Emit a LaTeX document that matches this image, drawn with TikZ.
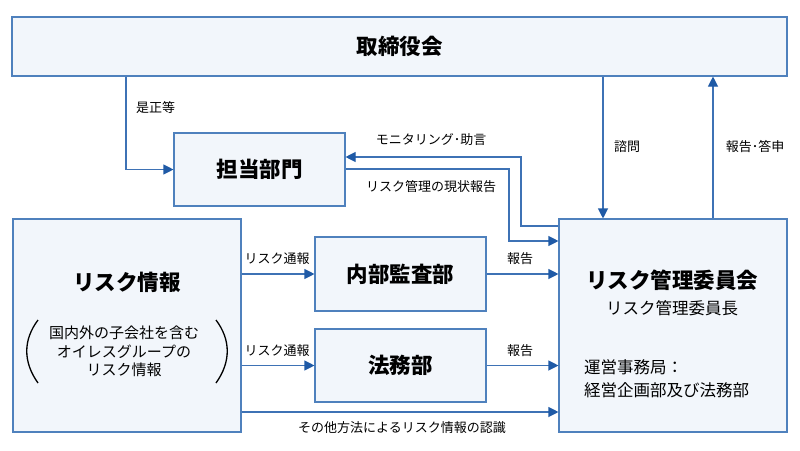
\documentclass[tikz,border=0pt]{standalone}
\usepackage{fontspec}
\setmainfont{Noto Sans CJK JP}
\usetikzlibrary{arrows.meta}
\definecolor{boxline}{HTML}{4F81BD}
\definecolor{boxfill}{HTML}{F2F6FB}
\definecolor{arrline}{HTML}{3E72B5}
\definecolor{arrtip}{HTML}{1F5AA6}
\tikzset{
  box/.style={draw=boxline, fill=boxfill, line width=1.1pt, inner sep=0pt, rectangle},
  ttl/.style={font=\fontsize{21.5}{24}\selectfont\bfseries},
  lbl/.style={font=\fontsize{13}{15}\selectfont, inner sep=0pt},
  mid/.style={font=\fontsize{16.5}{19}\selectfont, inner sep=0pt},
  conn/.style={draw=arrline, line width=1.1pt},
  arr/.style={conn, -{Triangle[length=10pt,width=10pt,fill=arrtip,color=arrtip]}},
}
\begin{document}
\begin{tikzpicture}[x=1pt,y=-1pt]
\useasboundingbox (0,0) rectangle (800,450);
% boxes
\node[box, minimum width=775pt, minimum height=59pt] (board) at (399.5,46.5) {};
\node[ttl] (boardt) at (399.5,46.5) {取締役会};
\node[box, minimum width=171pt, minimum height=73pt] (tanto) at (259.5,169.5) {};
\node[ttl] (tantot) at (259.5,169.5) {担当部門};
\node[box, minimum width=228pt, minimum height=213pt] (risk) at (127,325.5) {};
\node[ttl] (riskt) at (127,282) {リスク情報};
\node[font=\fontsize{15}{18.5}\selectfont, align=center, inner sep=0pt] (riskd) at (124,351.5) {国内外の子会社を含む\\オイレスグループの\\リスク情報};
\draw[line width=1.3pt] (38,320) .. controls (23,340) and (23,362) .. (38,383);
\draw[line width=1.3pt] (216,320) .. controls (231,340) and (231,362) .. (216,383);
\node[box, minimum width=171pt, minimum height=74pt] (audit) at (400.5,274) {};
\node[ttl] (auditt) at (400.5,274) {内部監査部};
\node[box, minimum width=171pt, minimum height=73pt] (legal) at (400.5,365.5) {};
\node[ttl] (legalt) at (400.5,365.5) {法務部};
\node[box, minimum width=228pt, minimum height=213pt] (comm) at (673,325.5) {};
\node[ttl] (commt) at (672,280) {リスク管理委員会};
\node[mid] (chair) at (672,308) {リスク管理委員長};
\node[mid, anchor=west] (sec1) at (584,367) {運営事務局：};
\node[mid, anchor=west] (sec2) at (584,390) {経営企画部及び法務部};
% coordinates
\coordinate (c1) at (126,0);
\coordinate (m1) at (521,157);
\coordinate (m2) at (509,169);
% connectors
\draw[arr] (board.south -| c1) |- (tanto.west);
\node[lbl, anchor=west] (l1) at (136,108) {是正等};
\draw[arr] (comm.west |- 0,226) -| (m1) -- (tanto.east |- m1);
\node[lbl] (l2) at (431,140) {モニタリング･助言};
\draw[arr] (tanto.east |- m2) -| (509,241) -- (comm.west |- 0,241);
\node[lbl] (l3) at (431,187) {リスク管理の現状報告};
\draw[arr] (board.south -| 603,0) -- (comm.north -| 603,0);
\node[lbl] (l4) at (627,147) {諮問};
\draw[arr] (comm.north -| 713,0) -- (board.south -| 713,0);
\node[lbl] (l5) at (755,147) {報告･答申};
\draw[arr] (risk.east |- audit) -- (audit.west);
\node[lbl] (l6) at (277,259) {リスク通報};
\draw[arr] (risk.east |- legal) -- (legal.west);
\node[lbl] (l7) at (277,351) {リスク通報};
\draw[arr] (audit.east) -- (comm.west |- audit);
\node[lbl] (l8) at (520,259) {報告};
\draw[arr] (legal.east) -- (comm.west |- legal);
\node[lbl] (l9) at (520,351) {報告};
\draw[arr] (risk.east |- 0,412) -- (comm.west |- 0,412);
\node[lbl] (l10) at (402,428) {その他方法によるリスク情報の認識};
\end{tikzpicture}
\end{document}
